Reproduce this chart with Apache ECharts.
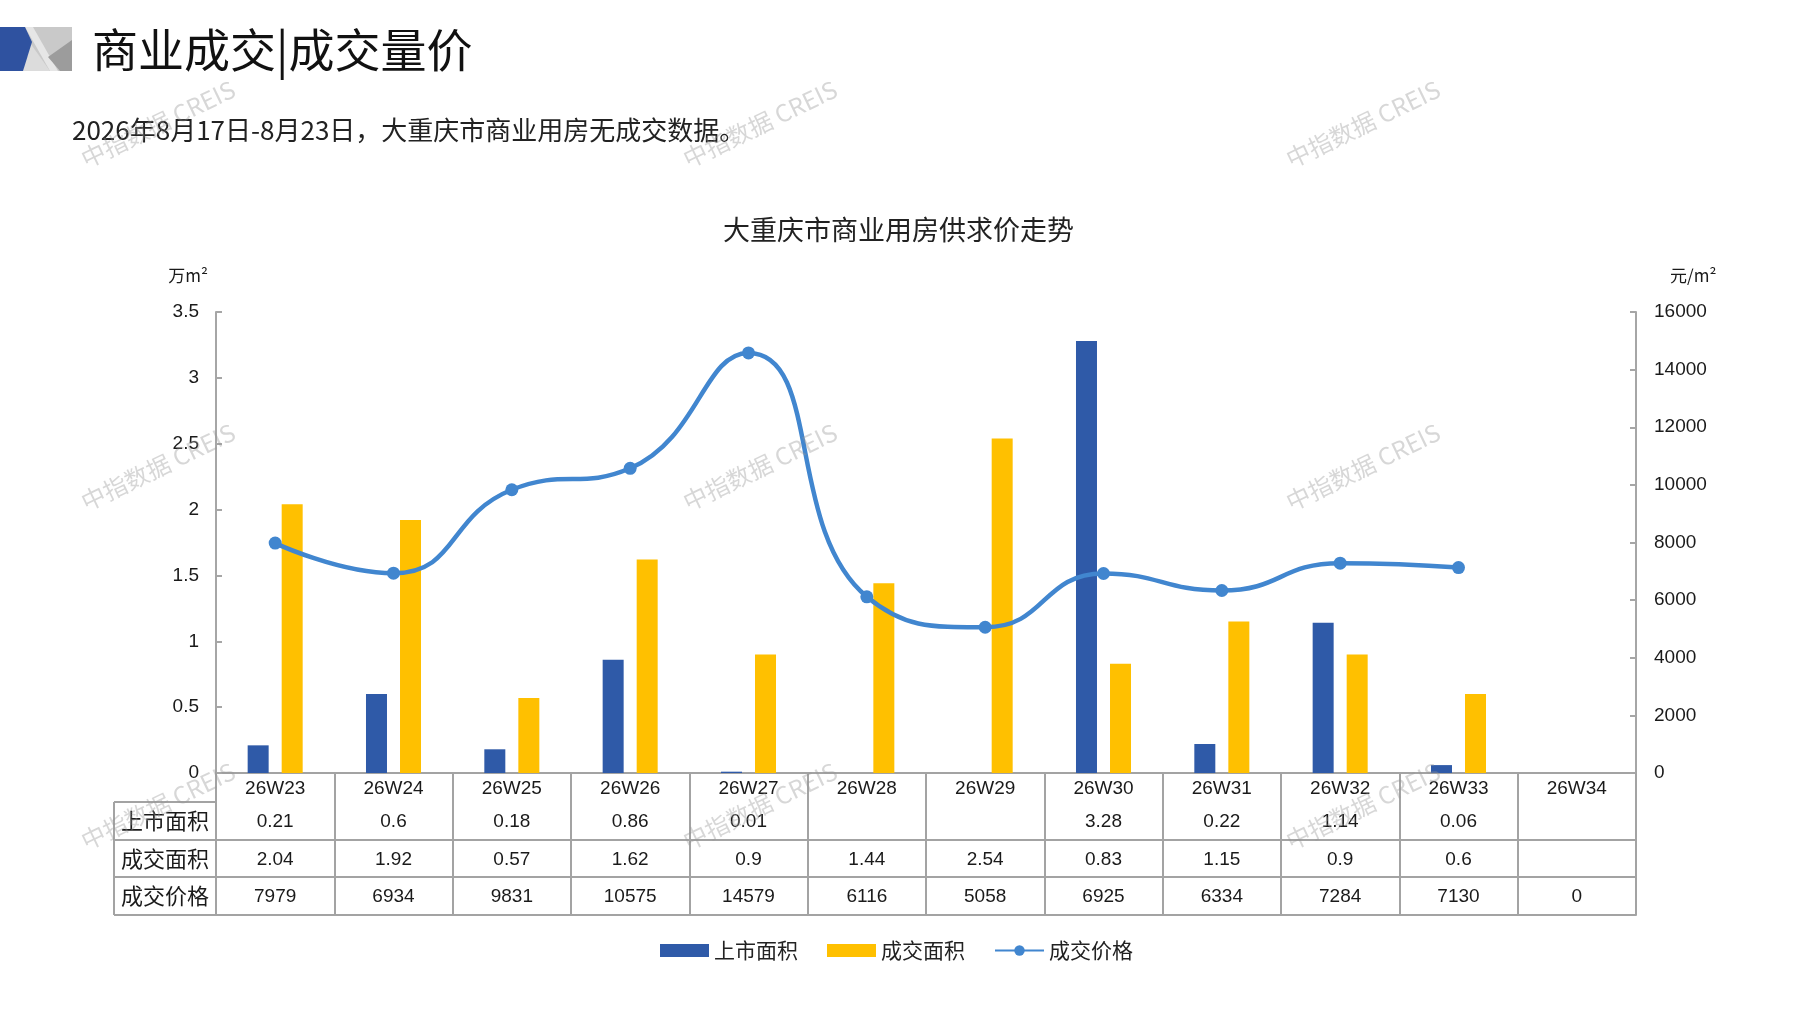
<!DOCTYPE html>
<html><head><meta charset="utf-8">
<script src="https://cdn.jsdelivr.net/npm/echarts@6/dist/echarts.min.js"></script>
<style>html,body{margin:0;padding:0;background:#fff}#c{width:1797px;height:1010px}</style>
</head><body><div id="c"></div>
<script>
// ---- data ----
const categories = ['26W23','26W24','26W25','26W26','26W27','26W28','26W29','26W30','26W31','26W32','26W33','26W34'];
const supplyArea = [0.21, 0.6, 0.18, 0.86, 0.01, null, null, 3.28, 0.22, 1.14, 0.06, null];
const dealArea   = [2.04, 1.92, 0.57, 1.62, 0.9, 1.44, 2.54, 0.83, 1.15, 0.9, 0.6, null];
const dealPrice  = [7979, 6934, 9831, 10575, 14579, 6116, 5058, 6925, 6334, 7284, 7130, 0];
const seriesNames = ['上市面积', '成交面积', '成交价格'];
const leftAxis = {min: 0, max: 3.5, interval: 0.5, name: '万m²'};
const rightAxis = {min: 0, max: 16000, interval: 2000, name: '元/m²'};

// ---- layout ----
const FONT = "'Liberation Sans', Arial, 'Noto Sans CJK SC', sans-serif";
const CJK = "'Noto Sans CJK SC', sans-serif";
const GL = 216, GR = 1636, GT = 312, GB = 773, TL = 114;
const W = 1797, H = 1010;
const rowOff = [0, 29, 67, 104, 142];
const LINE_C = '#A3A3A3';
const TXT = '#1a1a1a';

const tableRows = [
  {name: seriesNames[0], values: supplyArea},
  {name: seriesNames[1], values: dealArea},
  {name: seriesNames[2], values: dealPrice}
];

const xAxes = [{
  type: 'category', data: categories, position: 'bottom', gridIndex: 0,
  axisLine: {show: true, lineStyle: {color: LINE_C, width: 2}},
  axisTick: {show: true, length: rowOff[4], lineStyle: {color: LINE_C, width: 2}},
  axisLabel: {interval: 0, margin: 6, fontSize: 19, color: TXT, fontFamily: FONT},
  splitLine: {show: false}
}];
tableRows.forEach((r, i) => {
  xAxes.push({
    type: 'category', data: categories, position: 'bottom', offset: rowOff[i + 1],
    axisLine: {show: true, lineStyle: {color: LINE_C, width: 2}},
    axisTick: {show: false},
    axisLabel: {interval: 0, margin: 10, fontSize: 19, color: TXT, fontFamily: FONT,
      formatter: (v, idx) => r.values[idx] == null ? '' : String(r.values[idx])},
    splitLine: {show: false}
  });
});
xAxes.push({
  type: 'category', data: categories, position: 'bottom', offset: rowOff[4],
  axisLine: {show: true, lineStyle: {color: LINE_C, width: 2}},
  axisTick: {show: false}, axisLabel: {show: false}, splitLine: {show: false}
});

const graphics = [];
// logo
graphics.push({type: 'rect', shape: {x: 25, y: 27, width: 47, height: 44}, style: {fill: '#C9C9C9'}});
graphics.push({type: 'polygon', shape: {points: [[25,27],[33,27],[58,71],[50,71]]}, style: {fill: '#E6E6E6'}});
graphics.push({type: 'polygon', shape: {points: [[28,40],[50,71],[23,71]]}, style: {fill: '#DCDCDC'}});
graphics.push({type: 'polygon', shape: {points: [[48,57],[72,40],[72,71],[60,71]]}, style: {fill: '#9C9C9C'}});
graphics.push({type: 'polygon', shape: {points: [[0,27],[25,27],[32,42],[23,71],[0,71]]}, style: {fill: '#2F52A0'}});
// header texts
graphics.push({type: 'text', x: 92, y: 50, style: {text: '商业成交|成交量价', fontSize: 46, fontFamily: CJK, fill: '#111', verticalAlign: 'middle'}});
graphics.push({type: 'text', x: 72, y: 130, style: {text: '2026年8月17日-8月23日，大重庆市商业用房无成交数据。', fontSize: 26, fontFamily: CJK, fill: '#222', verticalAlign: 'middle'}});
// left column of table
[1, 2, 3, 4].forEach(k => {
  graphics.push({type: 'line', shape: {x1: TL, y1: GB + rowOff[k], x2: GL, y2: GB + rowOff[k]}, style: {stroke: LINE_C, lineWidth: 2}});
});
graphics.push({type: 'line', shape: {x1: TL, y1: GB + rowOff[1], x2: TL, y2: GB + rowOff[4]}, style: {stroke: LINE_C, lineWidth: 2}});
tableRows.forEach((r, i) => {
  graphics.push({type: 'text', x: (TL + GL) / 2, y: GB + (rowOff[i + 1] + rowOff[i + 2]) / 2,
    style: {text: r.name, fontSize: 22, fontFamily: CJK, fill: TXT, align: 'center', verticalAlign: 'middle'}});
});
// watermarks
[158, 760, 1363].forEach(x => [124, 467, 806].forEach(y => {
  graphics.push({type: 'text', x: x, y: y, rotation: 0.45, z: 100,
    style: {text: '中指数据 CREIS', fontSize: 24, fontFamily: CJK, fill: 'rgba(150,150,150,0.38)', align: 'center', verticalAlign: 'middle'}});
}));

const chart = echarts.init(document.getElementById('c'), null, {renderer: 'canvas'});
chart.setOption({
  animation: false,
  backgroundColor: '#fff',
  title: {text: '大重庆市商业用房供求价走势', left: 'center', top: 211,
    textStyle: {fontSize: 27, fontWeight: 'normal', color: '#222', fontFamily: CJK}},
  grid: {left: GL, right: W - GR, top: GT, bottom: H - GB, containLabel: false},
  legend: {left: 655, top: 935, itemWidth: 49, itemHeight: 13, itemGap: 29,
    textStyle: {fontSize: 21, color: '#222', fontFamily: CJK},
    data: [{name: seriesNames[0], icon: 'rect'}, {name: seriesNames[1], icon: 'rect'}, {name: seriesNames[2]}]},
  xAxis: xAxes,
  yAxis: [{
    type: 'value', position: 'left', min: leftAxis.min, max: leftAxis.max, interval: leftAxis.interval,
    name: leftAxis.name, nameLocation: 'end', nameGap: 28,
    nameTextStyle: {fontSize: 17, color: TXT, fontFamily: CJK, align: 'right', padding: [0, 8, 0, 0]},
    axisLine: {show: true, lineStyle: {color: '#A6A6A6', width: 2}},
    axisTick: {show: true, inside: true, length: 6, lineStyle: {color: '#A6A6A6', width: 2}},
    axisLabel: {fontSize: 19, color: TXT, margin: 17, fontFamily: FONT},
    splitLine: {show: false}
  }, {
    type: 'value', position: 'right', min: rightAxis.min, max: rightAxis.max, interval: rightAxis.interval,
    name: rightAxis.name, nameLocation: 'end', nameGap: 28,
    nameTextStyle: {fontSize: 17, color: TXT, fontFamily: CJK, align: 'left', padding: [0, 0, 0, 34]},
    axisLine: {show: true, lineStyle: {color: '#A6A6A6', width: 2}},
    axisTick: {show: true, inside: true, length: 6, lineStyle: {color: '#A6A6A6', width: 2}},
    axisLabel: {fontSize: 19, color: TXT, margin: 18, fontFamily: FONT, formatter: v => String(v)},
    splitLine: {show: false}
  }],
  series: [{
    name: seriesNames[0], type: 'bar', data: supplyArea, barWidth: 21, barGap: '62%',
    itemStyle: {color: '#2F5AA8'}
  }, {
    name: seriesNames[1], type: 'bar', data: dealArea, barWidth: 21,
    itemStyle: {color: '#FFC000'}
  }, {
    name: seriesNames[2], type: 'line', yAxisIndex: 1,
    data: dealPrice.map(v => v === 0 ? null : v),
    smooth: 0.5, symbol: 'circle', symbolSize: 13,
    lineStyle: {width: 4.5, color: '#4186CF'}, itemStyle: {color: '#4186CF'}
  }],
  graphic: graphics
});
</script></body></html>
